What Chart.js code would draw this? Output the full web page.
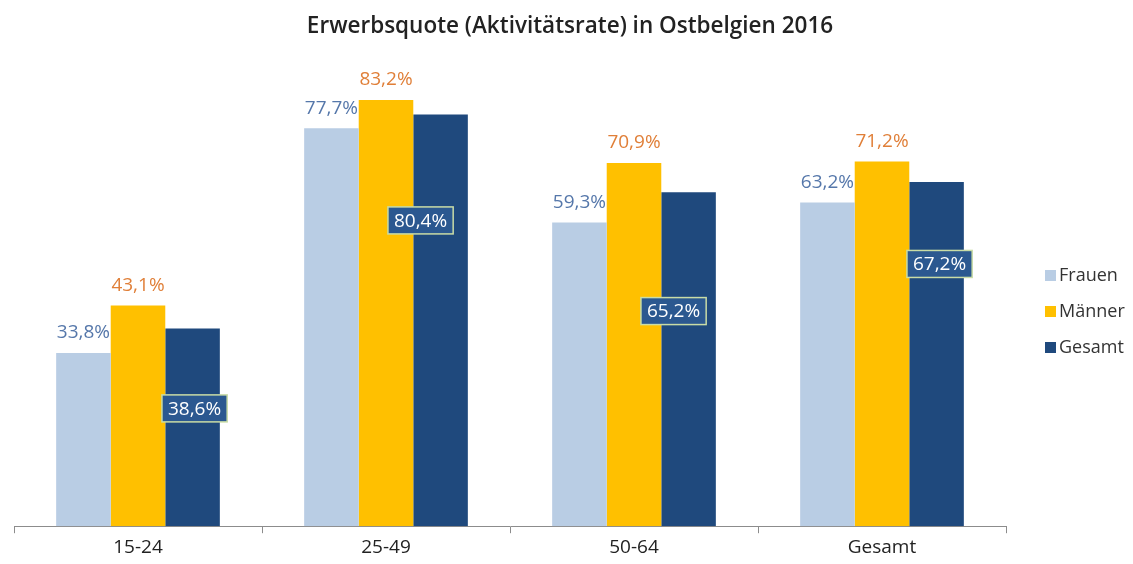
<!DOCTYPE html>
<html>
<head>
<meta charset="utf-8">
<script src="https://cdn.jsdelivr.net/npm/chart.js@4/dist/chart.umd.min.js"></script>
<style>
  html, body { margin: 0; padding: 0; background: #fff; }
  #wrap { width: 1133px; height: 564px; position: relative; }
</style>
</head>
<body>
<div id="wrap"><canvas id="c"></canvas></div>
<script>
// Erwerbsquote Ostbelgien 2016
const categories = ['15-24', '25-49', '50-64', 'Gesamt'];
const frauen = [33.8, 77.7, 59.3, 63.2];
const maenner = [43.1, 83.2, 70.9, 71.2];
const gesamt = [38.6, 80.4, 65.2, 67.2];
const seriesNames = ['Frauen', 'Männer', 'Gesamt'];

// where the boxed Gesamt labels sit (value units) + small horizontal nudge (px)
const gesamtLabelAt = [23.0, 59.7, 42.0, 51.2];
const gesamtLabelShift = [2, -20, -15, 3];

const fontFamily = "'Open Sans', 'Noto Sans', sans-serif";
const colors = { frauen: '#b9cde4', maenner: '#ffc000', gesamt: '#1f497d' };
const fmt = (v) => v.toFixed(1).replace('.', ',') + '%';

const labelsPlugin = {
  id: 'valueLabels',
  afterDatasetsDraw(chart) {
    const { ctx } = chart;
    const y = chart.scales.y;
    ctx.save();
    ctx.font = `19px ${fontFamily}`;
    ctx.textAlign = 'center'; ctx.textBaseline = 'middle';
    const tint = ['#5577aa', '#e07f38'];
    [0, 1].forEach((di) => {
      chart.getDatasetMeta(di).data.forEach((bar, i) => {
        ctx.fillStyle = tint[di];
        ctx.fillText(fmt(chart.data.datasets[di].data[i]), bar.x, bar.y - 20);
      });
    });
    chart.getDatasetMeta(2).data.forEach((bar, i) => {
      const txt = fmt(gesamt[i]);
      const w = ctx.measureText(txt).width + 12, h = 27;
      const cx = bar.x + gesamtLabelShift[i], cy = y.getPixelForValue(gesamtLabelAt[i]);
      ctx.fillStyle = '#2b5890';
      ctx.fillRect(cx - w / 2, cy - h / 2, w, h);
      ctx.strokeStyle = '#c9dca6'; ctx.lineWidth = 1.5;
      ctx.strokeRect(cx - w / 2, cy - h / 2, w, h);
      ctx.fillStyle = '#ffffff';
      ctx.fillText(txt, cx, cy + 1);
    });
    ctx.restore();
  },
};

const titleLegendPlugin = {
  id: 'titleLegend',
  afterDraw(chart) {
    const { ctx } = chart;
    ctx.save();
    ctx.fillStyle = '#222';
    ctx.font = `600 22.5px ${fontFamily}`;
    ctx.textAlign = 'center'; ctx.textBaseline = 'middle';
    ctx.fillText('Erwerbsquote (Aktivitätsrate) in Ostbelgien 2016', 570, 27);
    // legend
    ctx.font = `18px ${fontFamily}`;
    ctx.textAlign = 'left';
    chart.data.datasets.forEach((ds, i) => {
      const ly = 276 + i * 36;
      ctx.fillStyle = ds.backgroundColor;
      ctx.fillRect(1045, ly - 6, 11, 11);
      ctx.fillStyle = '#333';
      ctx.fillText(ds.label, 1059, ly);
    });
    ctx.restore();
  },
};

new Chart(document.getElementById('c'), {
  type: 'bar',
  data: {
    labels: categories,
    datasets: [
      { label: seriesNames[0], data: frauen, backgroundColor: colors.frauen },
      { label: seriesNames[1], data: maenner, backgroundColor: colors.maenner },
      { label: seriesNames[2], data: gesamt, backgroundColor: colors.gesamt },
    ],
  },
  options: {
    responsive: true, maintainAspectRatio: false, animation: false,
    categoryPercentage: 0.66, barPercentage: 1.0,
    layout: { padding: { left: 14, right: 127, top: 14, bottom: 2 } },
    plugins: { legend: { display: false }, tooltip: { enabled: false } },
    scales: {
      x: {
        grid: { drawOnChartArea: false, tickLength: 7, color: '#8c8c8c' },
        border: { color: '#8c8c8c', width: 1 },
        ticks: { color: '#222', font: { family: fontFamily, size: 19 }, padding: 3 },
      },
      y: { display: false, min: 0, max: 100 },
    },
  },
  plugins: [labelsPlugin, titleLegendPlugin],
});
</script>
</body>
</html>
